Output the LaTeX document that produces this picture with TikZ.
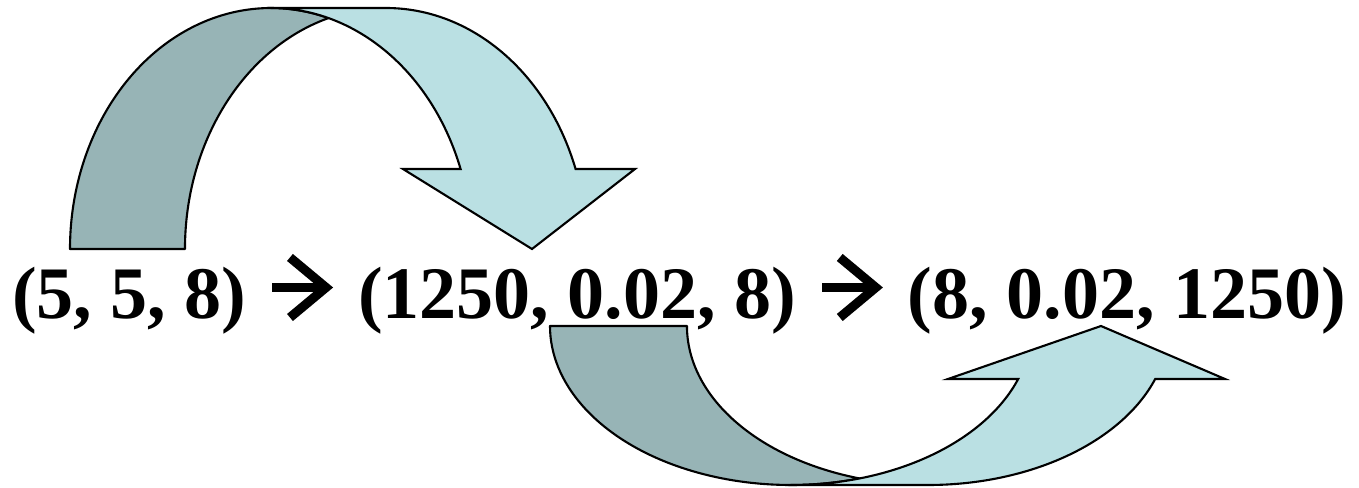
\documentclass[tikz,border=0pt]{standalone}
\usepackage{fontspec}
\setmainfont{Liberation Serif}
\usetikzlibrary{positioning, arrows.meta}
\definecolor{ribbonDark}{RGB}{151, 180, 182}
\definecolor{ribbonLight}{RGB}{186, 224, 227}
\tikzset{
  back/.style={fill=ribbonDark, draw=black, line width=0.6pt, line join=round},
  front/.style={fill=ribbonLight, draw=black, line width=0.6pt, line join=miter},
  tuple/.style={font=\fontsize{21.06pt}{25pt}\selectfont\bfseries, inner sep=0pt, outer sep=0pt},
  thru/.style={-{Straight Barb[length=3.6mm, width=6mm]}, line width=2.6pt,
    shorten <=0.26cm, shorten >=0.25cm},
}

\begin{document}
\begin{tikzpicture}[x=0.01cm, y=0.01cm, node distance=1.116cm]
  \useasboundingbox (0,0) rectangle (1359,487);
  % upper ribbon, back then front
  \draw[back] (70,238) arc[start angle=180, end angle=73.38, x radius=201, y radius=241]
    arc[start angle=106.62, end angle=180, x radius=201, y radius=241] -- cycle;
  \draw[front] (271,479) -- (386,479) arc[start angle=90, end angle=19.39, x radius=201, y radius=241]
    -- (635,318) -- (532,238) -- (403,318) -- (460.6,318)
    arc[start angle=19.39, end angle=90, x radius=201, y radius=241] -- cycle;
  % lower ribbon
  \draw[back] (550,161) arc[start angle=180, end angle=286.51, x radius=241, y radius=159]
    arc[start angle=253.49, end angle=180, x radius=241, y radius=159] -- cycle;
  \draw[front] (791,2) -- (928,2) arc[start angle=270, end angle=340.53, x radius=241, y radius=159]
    -- (1225,108) -- (1101,161) -- (948,108) -- (1018.2,108)
    arc[start angle=340.53, end angle=270, x radius=241, y radius=159] -- cycle;

  \node[tuple, anchor=base west] (t1) at (12,169) {(5, 5, 8)};
  \node[tuple, right=of t1] (t2) {(1250, 0.02, 8)};
  \node[tuple, right=of t2] (t3) {(8, 0.02, 1250)};
  \draw[thru] ([yshift=0.305cm]t1.base east) -- ([yshift=0.305cm]t2.base west);
  \draw[thru] ([yshift=0.305cm]t2.base east) -- ([yshift=0.305cm]t3.base west);
\end{tikzpicture}
\end{document}
